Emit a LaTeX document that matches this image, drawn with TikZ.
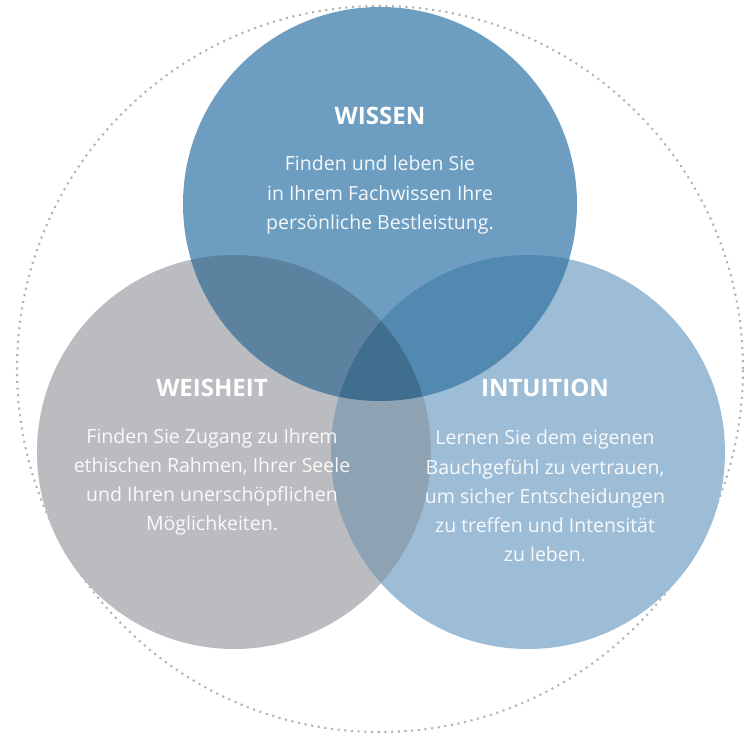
\documentclass[tikz,border=0pt]{standalone}
\usepackage{fontspec}
\setmainfont{Open Sans}
\definecolor{wissenblau}{HTML}{6D9EC1}
\definecolor{intuitionblau}{HTML}{9DBCD6}
\definecolor{weisheitgrau}{HTML}{BBBCC0}
\definecolor{wissenweisheit}{HTML}{5B829F}
\definecolor{wissenintuition}{HTML}{5189B0}
\definecolor{weisheitintuition}{HTML}{8DA3B3}
\definecolor{mitte}{HTML}{3F6E8F}
\definecolor{punktgrau}{HTML}{B4B4B4}

\tikzset{
  titel/.style={text=white,font=\bfseries\fontsize{24}{28}\selectfont},
  rumpf/.style={text=white,text opacity=0.92,align=center,font=\fontsize{19.5}{29.2}\selectfont},
}

\begin{document}
\begin{tikzpicture}[x=1pt,y=-1pt]
\useasboundingbox (0,0) rectangle (744,734);
%\draw[help lines,step=50](0,0)grid(744,734);
\coordinate (W) at (380,204);
\coordinate (H) at (234,452);
\coordinate (I) at (528,452);
\coordinate (M) at (380,369);
\draw[punktgrau,line width=2.1pt,dash pattern=on 2.1pt off 4.6pt] (M) circle[radius=363pt];
\fill[weisheitgrau] (H) circle[radius=197pt];
\fill[intuitionblau] (I) circle[radius=197pt];
\fill[wissenblau] (W) circle[radius=197pt];
% Schnittflaechen
\begin{scope}
  \clip (W) circle[radius=197pt];
  \fill[wissenweisheit] (H) circle[radius=197pt];
  \fill[wissenintuition] (I) circle[radius=197pt];
\end{scope}
\begin{scope}
  \clip (H) circle[radius=197pt];
  \fill[weisheitintuition] (I) circle[radius=197pt];
  \clip (I) circle[radius=197pt];
  \fill[mitte] (W) circle[radius=197pt];
\end{scope}
\node[titel] (wissen) at (380,116) {WISSEN};
\node[rumpf] (wissentext) at (380,195) {Finden und leben Sie\\in Ihrem Fachwissen Ihre\\persönliche Bestleistung.};
\node[titel] (weisheit) at (212,388) {WEISHEIT};
\node[rumpf] (weisheittext) at (212,482) {Finden Sie Zugang zu Ihrem\\ethischen Rahmen, Ihrer Seele\\und Ihren unerschöpflichen\\Möglichkeiten.};
\node[titel] (intuition) at (545,388) {INTUITION};
\node[rumpf] (intuitiontext) at (545,496) {Lernen Sie dem eigenen\\Bauchgefühl zu vertrauen,\\um sicher Entscheidungen\\zu treffen und Intensität\\zu leben.};
\end{tikzpicture}
\end{document}
